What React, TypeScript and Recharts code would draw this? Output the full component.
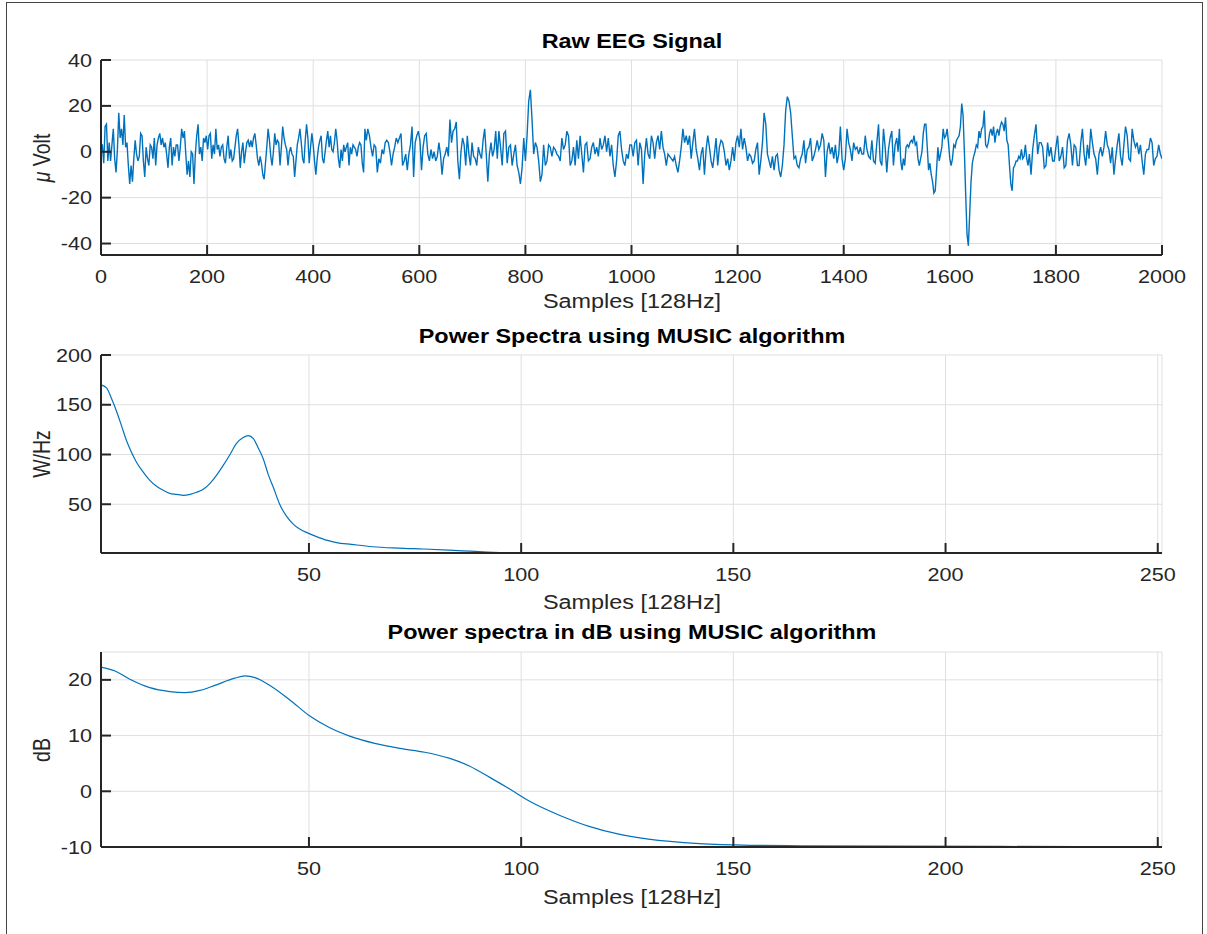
import React from 'react';
import { LineChart, Line, XAxis, YAxis, CartesianGrid } from 'recharts';

// Raw EEG in 8 blocks of 250 samples each
const eegSeg0 = [3, 3, -5, 11, 12, -4, 4, -4, 3, 10, -3, -9, 1, 17, 6, 10, 3, 16, 2, 4, -6, -14, -6, -13, -3, 5, -1, -4, -2, 8, 7, -4, -11, 2, -3, -6, 3, 2, -3, 6, -6, 3, 6, 8, 3, 6, 2, 4, -1, -7, 2, 6, -6, 2, -2, 3, 3, -4, 2, 10, 6, 9, -1, -10, -4, -11, 0, -1, -14, -1, 7, 12, -1, 2, -4, 6, 4, 7, 1, 7, 8, -3, 3, -1, 10, 1, 3, -2, 2, 3, -3, -5, 2, 7, -3, 1, -4];
const eegSeg1 = [-3, 2, 7, 10, 3, -7, 0, 4, -5, 0, 4, 5, 2, 5, 2, 6, 8, 3, -3, -6, -2, -5, -10, -12, -5, 2, 10, 5, -2, -6, 0, 8, 3, 5, 4, -6, 2, 11, 6, 3, 1, -6, 0, 2, -1, -2, -11, -4, 3, 6, 10, 4, -3, -5, 5, 12, 6, -5, 2, 8, 3, -4, -10, -3, 2, 5, 7, -3, -5, 0, 5, 9, 2, 7, 1, 0, 4, 10, 5, -3, -7, 1, -4, 3, 0, 2, 4, -6, 2, -1, 3, 2, 1, -2, 2, 4, 3, -5, -9, 10];
const eegSeg2 = [5, 10, 7, 2, -2, 3, 2, -9, -3, -5, 1, -1, 4, 5, 4, 0, -6, -1, 2, 6, 4, 6, 8, -6, -4, -1, -8, -1, 3, 11, -11, 4, 7, 9, 5, -8, 2, 7, 8, -1, -4, 1, -3, 0, -4, -2, 4, -1, -10, -3, -1, 2, -2, 14, 4, 9, 10, 13, -4, -12, 0, 6, 3, -6, 7, -1, -6, 4, -2, -3, -6, 2, -1, -3, 5, 10, -1, -13, -1, 4, -2, 1, 9, -3];
const eegSeg3 = [9, 2, -6, 8, 9, -5, 2, 3, -6, -1, 3, -6, -9, -14, -7, 6, -4, 7, 22, 27, 14, -1, 4, 2, -4, -13, -10, 3, -6, -4, 3, 2, -2, 2, 1, -1, -2, -4, 6, 1, 3, 9, 7, -6, -4, 2, -6, 5, -3, 7, -1, -9, 3, 4, -4, -3, 2, 4, -1, 2, -2, 6, 1, 3, 7, 0, 6, -2, 3, -6, -11, -4, 7, 9, 1, -4, -6, -1, -3, 3];
const eegSeg4 = [3, -2, 4, 5, -6, 4, 1, -14, -1, 6, -1, -3, 7, 4, -3, 4, 7, 1, 9, 2, -1, -6, -1, -2, -3, -4, -2, -6, -9, -4, 2, 10, 4, 7, 3, 7, -3, 4, 10, 1, -3, -8, -1, 2, -10, 1, 7, 2, -4, -7, -1, 6, -6, 2, 5, 4, 0, -6, -3, -8, -4, 2, -4, 4, 7, 2, 10, 1, 6, 2, -4, -1, -2, -5, -4, 1, 4, -10, -4, 4];
const eegSeg5 = [17, 12, -1, -4, -7, -2, -8, -2, -1, -8, -11, -6, 3, 18, 24, 22, 17, 7, -3, -2, -6, -7, -3, -1, 5, -5, 1, 2, 6, -4, -2, 1, 5, 1, 3, 8, 5, -11, 0, 4, -1, 2, -3, 3, -5, -1, 11, -3, -8, -3, 10, 4, 1, -4, 4, 1, 2, -1, 2, -1, -1, 7, 1, -2, -3, 5, -4, -5, 4, 12, -4, -6, 10, 2, -9, 1, 6, 9, -6, 3];
const eegSeg6 = [6, 0, 10, -4, -8, -3, -6, 2, 3, 2, 4, 5, 4, 7, 3, 4, -3, -6, -3, 0, 8, 12, 12, 2, -8, -5, -10, -13, -18, -17, -8, 2, -4, -1, 2, 10, 6, 7, 10, 4, -3, -6, -3, 3, 2, 5, 6, 7, 11, 21, 16, 0, -19, -36, -41, -27, -13, -5, -2, 0, 3, 2, 9, 6, 10, 11, 18, 3, 2, 4, 8, 10, 7, 11, 4, 8, 10, 7, 11, 13, 12, 9, 15, 5, 3, -6, -14, -17, -7, -6, -4, -4, -2, -3, 1, -3, -2, 3, -3, -6];
const eegSeg7 = [-1, -10, 1, 7, 12, -1, 4, 4, 2, -7, -6, 4, -2, 2, -4, -4, 2, 7, -4, -2, 2, -7, -6, 5, 8, 3, -6, 3, 2, -6, -6, 4, 10, -1, -6, 3, -3, 10, 4, -1, -3, -10, -1, 2, -2, 2, 9, 3, 1, -5, 2, -10, -3, 3, 8, -2, -6, 3, 11, 7, -3, -4, 10, 5, 2, 4, -1, 3, -4, -10, -1, 1, 1, 6, 4, -6, -3, -2, 3, -1, -3];
const eegSegments = [eegSeg0, eegSeg1, eegSeg2, eegSeg3, eegSeg4, eegSeg5, eegSeg6, eegSeg7];
const SEG_SAMPLES = 250;

// MUSIC power spectrum (W/Hz)
const powerFreq = [1, 2.3, 3.5, 4.7, 5.9, 7, 8.2, 9.4, 11, 12.5, 14.1, 15.7, 17.2, 18.8, 20.4, 22, 23.5, 25.1, 26.7, 28.2, 29.8, 31.4, 32.9, 34.5, 35.7, 36.9, 38, 39.2, 40.4, 41.6, 43.1, 44.7, 46.3, 47.8, 49.8, 51.8, 54.1, 56.5, 60, 65, 71, 77, 83, 88, 92, 95, 98];
const powerValues = [170, 167, 156, 143, 128, 114, 102, 92, 82, 74, 68, 64, 61, 60, 59, 60, 62, 65, 71, 79, 89, 100, 111, 117, 119, 116, 107, 96, 80, 67, 50, 38, 30, 25, 21, 17.5, 14, 11.5, 9.7, 7.3, 5.9, 5.0, 3.9, 2.8, 1.9, 1.35, 1.0];

// MUSIC power spectrum in dB
const dbFreq = [1, 4.3, 7.8, 12.5, 17.2, 20.8, 24.3, 27.8, 32.5, 34.9, 37.3, 40.8, 45.5, 50.2, 54.9, 59.6, 65.5, 71.4, 77.3, 83.2, 87.9, 92.6, 97.3, 102, 109, 116, 123, 130, 142, 154, 166, 189, 213, 251];
const dbValues = [22.3, 21.6, 20.1, 18.6, 17.9, 17.7, 18.1, 19.0, 20.3, 20.7, 20.4, 19.0, 16.4, 13.5, 11.4, 9.9, 8.6, 7.7, 7.0, 5.9, 4.5, 2.5, 0.4, -1.8, -4.3, -6.3, -7.7, -8.6, -9.4, -9.7, -9.78, -9.85, -9.9, -9.95];

// ticks
const eegXTicks = [0, 200, 400, 600, 800, 1000, 1200, 1400, 1600, 1800, 2000];
const eegYTicks = [-40, -20, 0, 20, 40];
const specXTicks = [50, 100, 150, 200, 250];
const powerYTicks = [50, 100, 150, 200];
const dbYTicks = [-10, 0, 10, 20];

const eegData = eegSegments.flatMap((seg, s) => {
  const last = s === eegSegments.length - 1;
  const step = SEG_SAMPLES / (last ? seg.length - 1 : seg.length);
  return seg.map((v, k) => ({ sample: s * SEG_SAMPLES + k * step, uv: v }));
});
const powerData = powerFreq.map((f, i) => ({ f, p: powerValues[i] }));
const dbData = dbFreq.map((f, i) => ({ f, db: dbValues[i] }));

const FIG_W = 1207;
const FIG_H = 934;
const PLOT_LEFT = 101;
const PLOT_RIGHT = 1162;
const PAD_TOP = 20;
const AXIS_H = 40;
const FRAME = '#262626';
const GRID = '#dfdfdf';
const BLUE = '#0072bd';
const FONT = '"Liberation Sans", Arial, Helvetica, sans-serif';
const TICK_FS = 18;
const LABEL_FS = 19.5;
const SX = 1.2; // the picture is stretched sideways
const TICK_LEN = 10;

const frameLine = { stroke: FRAME, strokeWidth: 2 };

function BottomTick(props: any) {
  const { x, y, payload } = props;
  return (
    <g>
      <line x1={x} y1={y} x2={x} y2={y - TICK_LEN} stroke={FRAME} strokeWidth={2} />
      <text transform={`translate(${x},${y + 28}) scale(${SX},1)`} textAnchor="middle" fontSize={TICK_FS} fontFamily={FONT} fill={FRAME}>
        {payload.value}
      </text>
    </g>
  );
}

function TopTick(props: any) {
  const { x, y } = props;
  return <line x1={x} y1={y} x2={x} y2={y + TICK_LEN} stroke={FRAME} strokeWidth={2} />;
}

function LeftTick(props: any) {
  const { x, y, payload } = props;
  return (
    <g>
      <line x1={x} y1={y} x2={x + TICK_LEN} y2={y} stroke={FRAME} strokeWidth={2} />
      <text transform={`translate(${x - 9},${y + 6.5}) scale(${SX},1)`} textAnchor="end" fontSize={TICK_FS} fontFamily={FONT} fill={FRAME}>
        {payload.value}
      </text>
    </g>
  );
}

function RightTick(props: any) {
  const { x, y } = props;
  return <line x1={x} y1={y} x2={x - TICK_LEN} y2={y} stroke={FRAME} strokeWidth={2} />;
}

interface PanelProps {
  top: number;
  bottom: number;
  data: any[];
  xKey: string;
  yKey: string;
  xDomain: [number, number];
  yDomain: [number, number];
  xTicks: number[];
  yTicks: number[];
  curve: 'linear' | 'monotone';
  lineWidth: number;
}

function Panel({ top, bottom, data, xKey, yKey, xDomain, yDomain, xTicks, yTicks, curve, lineWidth }: PanelProps) {
  const height = PAD_TOP + (bottom - top) + AXIS_H;
  return (
    <div style={{ position: 'absolute', left: 0, top: top - PAD_TOP }}>
      <LineChart
        width={FIG_W}
        height={height}
        data={data}
        margin={{ top: PAD_TOP, right: FIG_W - PLOT_RIGHT, bottom: 0, left: 0 }}
      >
        <CartesianGrid stroke={GRID} strokeWidth={1} />
        <XAxis
          type="number"
          dataKey={xKey}
          domain={xDomain}
          ticks={xTicks}
          interval={0}
          height={AXIS_H}
          tickSize={0}
          tickMargin={0}
          tickLine={false}
          axisLine={frameLine}
          tick={BottomTick}
          allowDataOverflow
        />
        <XAxis
          xAxisId="top"
          orientation="top"
          type="number"
          domain={xDomain}
          ticks={xTicks}
          interval={0}
          height={0}
          tickSize={0}
          tickMargin={0}
          tickLine={false}
          axisLine={frameLine}
          tick={TopTick}
          allowDataOverflow
        />
        <YAxis
          type="number"
          domain={yDomain}
          ticks={yTicks}
          interval={0}
          width={PLOT_LEFT}
          tickSize={0}
          tickMargin={0}
          tickLine={false}
          axisLine={frameLine}
          tick={LeftTick}
          allowDataOverflow
        />
        <YAxis
          yAxisId="right"
          orientation="right"
          type="number"
          domain={yDomain}
          ticks={yTicks}
          interval={0}
          width={0}
          tickSize={0}
          tickMargin={0}
          tickLine={false}
          axisLine={frameLine}
          tick={RightTick}
          allowDataOverflow
        />
        <Line
          type={curve}
          dataKey={yKey}
          stroke={BLUE}
          strokeWidth={lineWidth}
          dot={false}
          activeDot={false}
          isAnimationActive={false}
        />
      </LineChart>
    </div>
  );
}

function HText({ text, cx, cy, bold }: { text: React.ReactNode; cx: number; cy: number; bold?: boolean }) {
  return (
    <div
      style={{
        position: 'absolute',
        left: cx,
        top: cy,
        transform: `translate(-50%, -50%) scaleX(${SX})`,
        whiteSpace: 'nowrap',
        fontFamily: FONT,
        fontSize: LABEL_FS,
        fontWeight: bold ? 'bold' : 'normal',
        lineHeight: 1,
        color: bold ? '#000' : FRAME,
      }}
    >
      {text}
    </div>
  );
}

function VText({ text, cx, cy }: { text: React.ReactNode; cx: number; cy: number }) {
  return (
    <div
      style={{
        position: 'absolute',
        left: cx,
        top: cy,
        transform: `translate(-50%, -50%) scaleX(${SX}) rotate(-90deg)`,
        whiteSpace: 'nowrap',
        fontFamily: FONT,
        fontSize: LABEL_FS,
        lineHeight: 1,
        color: FRAME,
      }}
    >
      {text}
    </div>
  );
}

const PANELS = [
  { top: 60, bottom: 255 },
  { top: 355, bottom: 553 },
  { top: 652, bottom: 847 },
];
const PLOT_CX = (PLOT_LEFT + PLOT_RIGHT) / 2;

export default function App() {
  const [p1, p2, p3] = PANELS;
  return (
    <div
      style={{
        position: 'absolute',
        left: 0,
        top: 0,
        width: FIG_W,
        height: FIG_H,
        background: '#fff',
        overflow: 'hidden',
      }}
    >
      {/* figure border */}
      <div
        style={{
          position: 'absolute',
          left: 6,
          top: 2,
          width: FIG_W - 10,
          height: FIG_H + 10,
          border: '1.5px solid #444',
          boxSizing: 'border-box',
        }}
      />

      <Panel
        top={p1.top}
        bottom={p1.bottom}
        data={eegData}
        xKey="sample"
        yKey="uv"
        xDomain={[0, 2000]}
        yDomain={[-45, 40]}
        xTicks={eegXTicks}
        yTicks={eegYTicks}
        curve="linear"
        lineWidth={1.4}
      />
      <Panel
        top={p2.top}
        bottom={p2.bottom}
        data={powerData}
        xKey="f"
        yKey="p"
        xDomain={[1, 251]}
        yDomain={[1, 200]}
        xTicks={specXTicks}
        yTicks={powerYTicks}
        curve="monotone"
        lineWidth={1.2}
      />
      <Panel
        top={p3.top}
        bottom={p3.bottom}
        data={dbData}
        xKey="f"
        yKey="db"
        xDomain={[1, 251]}
        yDomain={[-10, 25]}
        xTicks={specXTicks}
        yTicks={dbYTicks}
        curve="monotone"
        lineWidth={1.2}
      />

      {/* titles */}
      <HText text="Raw EEG Signal" cx={PLOT_CX} cy={42} bold />
      <HText text="Power Spectra using MUSIC algorithm" cx={PLOT_CX} cy={337} bold />
      <HText text="Power spectra in dB using MUSIC algorithm" cx={PLOT_CX} cy={633} bold />

      {/* x labels */}
      <HText text="Samples [128Hz]" cx={PLOT_CX} cy={302} />
      <HText text="Samples [128Hz]" cx={PLOT_CX} cy={603} />
      <HText text="Samples [128Hz]" cx={PLOT_CX} cy={898} />

      {/* y labels */}
      <VText text={<><i>μ</i> Volt</>} cx={42} cy={(p1.top + p1.bottom) / 2} />
      <VText text="W/Hz" cx={42} cy={(p2.top + p2.bottom) / 2} />
      <VText text="dB" cx={42} cy={(p3.top + p3.bottom) / 2} />
    </div>
  );
}
